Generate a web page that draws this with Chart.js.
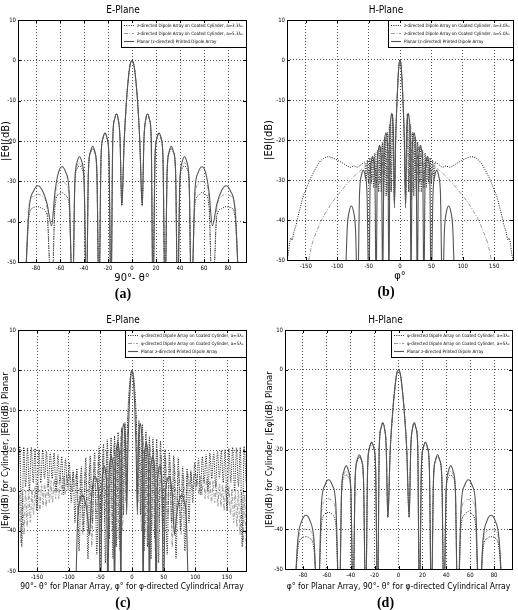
<!DOCTYPE html>
<html lang="en">
<head>
<meta charset="UTF-8">
<title>E-Plane / H-Plane radiation patterns</title>
<script src="https://cdn.jsdelivr.net/npm/chart.js"></script>
<style>
  body { margin: 0; background: #fff; width: 518px; height: 610px; position: relative; overflow: hidden; }
  canvas { position: absolute; }
</style>
</head>
<body>
<canvas id="chartA" width="259" height="305" style="left:0;top:0"></canvas>
<canvas id="chartB" width="259" height="305" style="left:259px;top:0"></canvas>
<canvas id="chartC" width="259" height="305" style="left:0;top:305px"></canvas>
<canvas id="chartD" width="259" height="305" style="left:259px;top:305px"></canvas>
<script>
// ---- tick labels ----
const dbTicks = [-50, -40, -30, -20, -10, 0, 10];
const narrowTicks = [-80, -60, -40, -20, 0, 20, 40, 60, 80];
const wideTicks = [-150, -100, -50, 0, 50, 100, 150];

// ---- E-plane: planar array + z-directed cylinders (a), planar reused in (c) ----
const ePlanarX = [
  -89.5, -85.8, -82, -78.3, -74.5, -70.8, -67,
  -64.1, -61.2, -58.3, -55.3, -52.4, -49.5,
  -47.6, -45.7, -43.8, -41.8, -39.9, -38,
  -36.3, -34.5, -32.8, -31, -29.3, -27.5,
  -25.8, -24.2, -22.5, -20.8, -19.2, -17.5,
  -16, -14.5, -13, -11.5, -10, -8.5,
  -6.5, -4.6, -3.2, -1.8, 0, 1.8, 3.2, 4.6, 6.5, 8.5,
  10, 11.5, 13, 14.5, 16, 17.5,
  19.2, 20.8, 22.5, 24.2, 25.8, 27.5,
  29.3, 31, 32.8, 34.5, 36.3, 38,
  39.9, 41.8, 43.8, 45.7, 47.6, 49.5,
  52.4, 55.3, 58.3, 61.2, 64.1, 67,
  70.8, 74.5, 78.3, 82, 85.8, 89.5
];
const ePlanarY = [
  -60, -37, -32.4, -31.1, -32.4, -35.5, -41,
  -32.4, -27.7, -26.4, -27.7, -32.4, -60,
  -29.9, -25.2, -23.9, -25.2, -29.9, -60,
  -27.3, -22.6, -21.3, -22.6, -27.3, -60,
  -24, -19.3, -18, -19.3, -24, -60,
  -19.3, -14.6, -13.3, -14.6, -19.3, -36,
  -20, -10, -5, -1.5, 0, -1.5, -5, -10, -20, -36,
  -19.3, -14.6, -13.3, -14.6, -19.3, -60,
  -24, -19.3, -18, -19.3, -24, -60,
  -27.3, -22.6, -21.3, -22.6, -27.3, -60,
  -29.9, -25.2, -23.9, -25.2, -29.9, -60,
  -32.4, -27.7, -26.4, -27.7, -32.4, -41,
  -35.5, -32.4, -31.1, -32.4, -37, -60
];
const eCyl33Y = [
  -60, -38.5, -36.5, -36.3, -36.8, -38.5, -60,
  -36, -33.2, -32.8, -33.5, -36, -60,
  -30.5, -26.8, -26.2, -26.8, -30.5, -60,
  -27.5, -22.8, -22, -23, -27.5, -60,
  -24, -19.3, -18, -19.3, -24, -60,
  -19.3, -14.6, -13.3, -14.6, -19.3, -36,
  -20, -10, -5, -1.5, 0, -1.5, -5, -10, -20, -36,
  -19.3, -14.6, -13.3, -14.6, -19.3, -60,
  -24, -19.3, -18, -19.3, -24, -60,
  -27.5, -23, -22, -22.8, -27.5, -60,
  -30.5, -26.8, -26.2, -26.8, -30.5, -60,
  -36, -33.5, -32.8, -33.2, -36, -60,
  -38.5, -36.8, -36.3, -36.5, -38.5, -60
];
const eCyl53Y = [
  -60, -36, -33.6, -33.2, -33.8, -36.5, -60,
  -34, -30.5, -30, -30.6, -34, -60,
  -30, -26, -25.5, -26.2, -30, -60,
  -27.5, -22.7, -21.8, -22.8, -27.5, -60,
  -24, -19.3, -18, -19.3, -24, -60,
  -19.3, -14.6, -13.3, -14.6, -19.3, -36,
  -20, -10, -5, -1.5, 0, -1.5, -5, -10, -20, -36,
  -19.3, -14.6, -13.3, -14.6, -19.3, -60,
  -24, -19.3, -18, -19.3, -24, -60,
  -27.5, -22.8, -21.8, -22.7, -27.5, -60,
  -30, -26.2, -25.5, -26, -30, -60,
  -34, -30.6, -30, -30.5, -34, -60,
  -36.5, -33.8, -33.2, -33.6, -36, -60
];

// ---- H-plane: planar array (b, d) + phi-directed cylinders (d) ----
const hPlanarX = [
  -87.5, -84.2, -80.8, -77.5, -74.2, -70.8, -67.5,
  -64.5, -61.5, -58.5, -55.5, -52.5, -49.5,
  -47.6, -45.7, -43.8, -41.8, -39.9, -38,
  -36.3, -34.5, -32.8, -31, -29.3, -27.5,
  -25.8, -24.2, -22.5, -20.8, -19.2, -17.5,
  -16.1, -14.6, -13.2, -11.8, -10.3, -8.9,
  -6.9, -4.7, -3.2, -1.8, 0, 1.8, 3.2, 4.7, 6.9, 8.9,
  10.3, 11.8, 13.2, 14.6, 16.1, 17.5,
  19.2, 20.8, 22.5, 24.2, 25.8, 27.5,
  29.3, 31, 32.8, 34.5, 36.3, 38,
  39.9, 41.8, 43.8, 45.7, 47.6, 49.5,
  52.5, 55.5, 58.5, 61.5, 64.5, 67.5,
  70.8, 74.2, 77.5, 80.8, 84.2, 87.5
];
const hPlanarY = [
  -60, -42.5, -37.8, -36.5, -37.8, -42.5, -60,
  -33.6, -28.9, -27.6, -28.9, -33.6, -60,
  -30.1, -25.4, -24.1, -25.4, -30.1, -60,
  -27.3, -22.6, -21.3, -22.6, -27.3, -60,
  -24.2, -19.5, -18.2, -19.5, -24.2, -60,
  -19.3, -14.6, -13.3, -14.6, -19.3, -37,
  -20, -10, -5, -1.5, 0, -1.5, -5, -10, -20, -37,
  -19.3, -14.6, -13.3, -14.6, -19.3, -60,
  -24.2, -19.5, -18.2, -19.5, -24.2, -60,
  -27.3, -22.6, -21.3, -22.6, -27.3, -60,
  -30.1, -25.4, -24.1, -25.4, -30.1, -60,
  -33.6, -28.9, -27.6, -28.9, -33.6, -60,
  -42.5, -37.8, -36.5, -37.8, -42.5, -60
];
const hCyl3Y = [
  -60, -45, -42.2, -41.9, -42.3, -45, -60,
  -39, -36.2, -35.8, -36.3, -39, -60,
  -30.5, -27, -26.4, -27, -30.5, -60,
  -27.8, -22.8, -22, -22.8, -27.8, -60,
  -24.2, -19.5, -18.2, -19.5, -24.2, -60,
  -19.3, -14.6, -13.3, -14.6, -19.3, -37,
  -20, -10, -5, -1.5, 0, -1.5, -5, -10, -20, -37,
  -19.3, -14.6, -13.3, -14.6, -19.3, -60,
  -24.2, -19.5, -18.2, -19.5, -24.2, -60,
  -27.8, -22.8, -22, -22.8, -27.8, -60,
  -30.5, -27, -26.4, -27, -30.5, -60,
  -39, -36.3, -35.5, -36.2, -39, -60,
  -45, -42.3, -41.9, -42.2, -45, -60
];
const hCyl5Y = [
  -60, -43.5, -40.3, -40, -40.4, -43.5, -60,
  -36, -32.8, -32.4, -32.9, -36, -60,
  -30, -26.2, -25.5, -26.2, -30, -60,
  -27.6, -22.7, -21.8, -22.7, -27.6, -60,
  -24.2, -19.5, -18.2, -19.5, -24.2, -60,
  -19.3, -14.6, -13.3, -14.6, -19.3, -37,
  -20, -10, -5, -1.5, 0, -1.5, -5, -10, -20, -37,
  -19.3, -14.6, -13.3, -14.6, -19.3, -60,
  -24.2, -19.5, -18.2, -19.5, -24.2, -60,
  -27.6, -22.7, -21.8, -22.7, -27.6, -60,
  -30, -26.2, -25.5, -26.2, -30, -60,
  -36, -32.9, -32.6, -32.8, -36, -60,
  -43.5, -40.4, -40, -40.3, -43.5, -60
];

// ---- (b) z-directed cylinders, H-plane ----
const bCyl30X = [
  -180, -178, -176, -174, -172, -169, -166, -163, -159, -155, -150, -145, -140, -134, -128, -121, -114, -107, -100, -93, -86, -79, -73, -68, -63, -59,
  -56, -54, -52, -50, -48, -46, -44, -42, -40, -38, -36, -34, -32, -30, -28, -26, -24, -22, -20, -18, -16, -14, -12, -9,
  -6.9, -4.7, -3.2, -1.8, 0, 1.8, 3.2, 4.7, 6.9,
  9, 12, 14, 16, 18, 20, 22, 24, 26, 28, 30, 32, 34, 36, 38, 40, 42, 44, 46, 48, 50, 52, 54, 56,
  59, 63, 68, 73, 79, 86, 93, 100, 107, 114, 121, 128, 134, 140, 145, 150, 155, 159, 163, 166, 169, 172, 174, 176, 178, 180
];
const bCyl30Y = [
  -50, -48.5, -46, -44.5, -45, -43, -41.5, -39.5, -37, -34.5, -32.5, -30.5, -28.8, -27, -25.5, -24.5, -24.2, -24.5, -25, -25.6, -26.3, -26.8, -26.5, -26.8, -26.3, -25.8,
  -25.5, -30, -25, -31, -24.5, -31, -24, -32, -23.2, -32, -22.5, -33, -21.5, -33, -20.5, -34, -19.2, -34, -18, -35, -16, -33, -13.5, -35,
  -20, -10, -5, -1.5, 0, -1.5, -5, -10, -20,
  -35, -13.5, -33, -16, -35, -18, -34, -19.2, -34, -20.5, -33, -21.5, -33, -22.5, -32, -23.2, -32, -24, -31, -24.5, -31, -25, -30, -25.5,
  -25.8, -26.3, -26.8, -26.5, -26.8, -26.3, -25.6, -25, -24.5, -24.2, -24.5, -25.5, -27, -28.8, -30.5, -32.5, -34.5, -37, -39.5, -41.5, -43, -45, -44.5, -46, -48.5, -50
];
const bCyl50X = [
  -148, -140, -133, -125, -117, -108, -100, -90, -80, -70, -62, -56,
  -53, -50, -47, -44, -41, -38, -35, -32, -29, -26, -23, -20, -17, -14, -11.5, -9,
  -6.9, -4.7, -3.2, -1.8, 0, 1.8, 3.2, 4.7, 6.9,
  9, 11.5, 14, 17, 20, 23, 26, 29, 32, 35, 38, 41, 44, 47, 50, 53,
  56, 62, 70, 80, 90, 100, 108, 117, 125, 133, 140, 148
];
const bCyl50Y = [
  -52, -46, -43, -40, -37.8, -35.6, -34, -32, -30.2, -28.6, -27.5, -26.7,
  -26.2, -30, -25.5, -30, -24.3, -31, -23, -31, -21.2, -32, -19.5, -33, -16.5, -33, -13.5, -36,
  -20, -10, -5, -1.5, 0, -1.5, -5, -10, -20,
  -36, -13.5, -33, -16.5, -33, -19.5, -32, -21.2, -31, -23, -31, -24.3, -30, -25.5, -30, -26.2,
  -26.7, -27.5, -28.6, -30.2, -32, -34, -35.6, -37.8, -40, -43, -46, -52
];

// ---- (c) phi-directed cylinders, E-plane ----
const cCyl3X = [
  -180, -177, -174, -171, -168, -165, -162, -159, -156, -153, -150, -147, -144, -141, -138, -135, -132, -129, -126, -123, -120, -117, -114, -111, -108, -105, -102, -99,
  -96, -93, -90, -87, -83.5, -80, -76.5, -73, -69.5, -66, -62.5, -59, -55.5, -52, -48.5, -45, -42, -39, -36, -33, -30, -27.5, -24.5, -22, -19, -16.5, -13.5, -11, -8.5,
  -7.5, -6.3, -4.5, -2.5, 0, 2.5, 4.5, 6.3, 7.5,
  8.5, 11, 13.5, 16.5, 19, 22, 24.5, 27.5, 30, 33, 36, 39, 42, 45, 48.5, 52, 55.5, 59, 62.5, 66, 69.5, 73, 76.5, 80, 83.5, 87, 90, 93, 96,
  99, 102, 105, 108, 111, 114, 117, 120, 123, 126, 129, 132, 135, 138, 141, 144, 147, 150, 153, 156, 159, 162, 165, 168, 171, 174, 177, 180
];
const cCyl3Y = [
  -28, -19, -44, -19.2, -29, -19.3, -30, -19.2, -28, -19.5, -35, -19.8, -28, -20, -27, -20.2, -29, -20.5, -27, -20.6, -30, -21, -28, -21.5, -31, -22, -29, -23,
  -33, -25, -38, -24.5, -45, -24, -40, -21.8, -47, -21.3, -38, -20.5, -46, -19, -40, -18.4, -48, -17.2, -42, -16.8, -47, -16.4, -44, -15.5, -45, -14.3, -36, -13, -30,
  -16, -10, -5, -1.5, 0, -1.5, -5, -10, -16,
  -30, -12.5, -36, -13.5, -45, -15, -44, -16.4, -47, -16.8, -42, -17.2, -48, -17.6, -40, -19.7, -46, -20.5, -38, -21.3, -47, -21.8, -40, -24, -45, -24.5, -38, -25, -33,
  -23, -29, -22, -31, -21.5, -28, -21, -30, -20.6, -27, -20.5, -29, -20.2, -27, -20, -28, -19.8, -35, -19.5, -28, -19.2, -30, -19.3, -29, -19.2, -44, -19, -28
];
const cCyl5X = [
  -180, -178, -175.5, -173, -170.5, -168, -165.5, -163, -160.5, -158, -155.5, -153, -150.5, -148, -145.5, -143, -140.5, -138, -135.5, -133, -130.5, -128, -125.5, -123, -120.5, -118, -115.5, -113, -110.5, -108, -105.5, -103, -100.5, -98, -95.5, -93, -90.5,
  -88, -84.5, -81, -77.5, -74, -70.5, -67, -63.5, -60, -56.5, -53, -49.5, -46, -43, -40, -37, -34, -31, -28.5, -26, -23, -20.5, -17.5, -15, -12, -9.5, -8,
  -7, -5.5, -4, -2.2, 0, 2.2, 4, 5.5, 7,
  8, 9.5, 12, 15, 17.5, 20.5, 23, 26, 28.5, 31, 34, 37, 40, 43, 46, 49.5, 53, 56.5, 60, 63.5, 67, 70.5, 74, 77.5, 81, 84.5, 88,
  90.5, 93, 95.5, 98, 100.5, 103, 105.5, 108, 110.5, 113, 115.5, 118, 120.5, 123, 125.5, 128, 130.5, 133, 135.5, 138, 140.5, 143, 145.5, 148, 150.5, 153, 155.5, 158, 160.5, 163, 165.5, 168, 170.5, 173, 175.5, 178, 180
];
const cCyl5Y = [
  -45, -31, -43, -30.5, -41, -30, -39, -29.8, -38, -29.5, -36, -29, -35, -28.8, -35, -28.5, -34, -28.2, -34, -27.8, -33, -27.5, -33, -27.2, -32, -27, -32, -26.6, -31, -26.3, -31, -26, -30, -25.7, -30, -25.4, -29,
  -25.5, -36, -26, -41, -25, -35, -23.5, -44, -23, -37, -21.5, -43, -21, -38, -20, -45, -19.5, -40, -18.5, -44, -17.5, -42, -16.5, -40, -15, -33, -28,
  -14, -9, -5, -1.5, 0, -1.5, -5, -9, -14,
  -28, -33, -15, -40, -16.5, -42, -17.5, -44, -18.5, -40, -19.5, -45, -20, -38, -21, -43, -21.5, -37, -23, -44, -23.5, -35, -25, -41, -26, -36, -25.5,
  -29, -25.4, -30, -25.7, -30, -26, -31, -26.3, -31, -26.6, -32, -27, -32, -27.2, -33, -27.5, -33, -27.8, -34, -28.2, -34, -28.5, -35, -28.8, -35, -29, -36, -29.5, -38, -29.8, -39, -30, -41, -30.5, -43, -31, -45
];

const FONT = "'Liberation Sans Narrow', 'DejaVu Sans Condensed', 'Liberation Sans', Arial, sans-serif";

function pts(xs, ys) {
  return xs.map((x, i) => ({ x: x, y: ys[i] }));
}

function dotted(label, xs, ys) {
  return { label, data: pts(xs, ys), borderColor: '#1e1e1e', borderWidth: 1, borderDash: [1, 1.3], order: 1 };
}
function dashDot(label, xs, ys) {
  return { label, data: pts(xs, ys), borderColor: '#9a9a9a', borderWidth: 1, borderDash: [4, 1.5, 1, 1.5], order: 2 };
}
function solid(label, xs, ys) {
  return { label, data: pts(xs, ys), borderColor: '#555', borderWidth: 1.1, borderDash: [], order: 0 };
}

// box around the plot + short inward ticks, like the original
const framePlugin = {
  id: 'frame',
  afterDraw(chart) {
    const { ctx, chartArea: a, scales } = chart;
    ctx.save();
    ctx.strokeStyle = '#000';
    ctx.lineWidth = 1;
    ctx.strokeRect(Math.round(a.left) + 0.5, Math.round(a.top) + 0.5, Math.round(a.right - a.left), Math.round(a.bottom - a.top));
    ctx.beginPath();
    scales.x.ticks.forEach(t => {
      const px = Math.round(scales.x.getPixelForValue(t.value)) + 0.5;
      ctx.moveTo(px, a.bottom); ctx.lineTo(px, a.bottom - 3);
      ctx.moveTo(px, a.top); ctx.lineTo(px, a.top + 3);
    });
    scales.y.ticks.forEach(t => {
      const py = Math.round(scales.y.getPixelForValue(t.value)) + 0.5;
      ctx.moveTo(a.left, py); ctx.lineTo(a.left + 3, py);
      ctx.moveTo(a.right, py); ctx.lineTo(a.right - 3, py);
    });
    ctx.stroke();
    ctx.restore();
  }
};

// legend box in the upper right corner of the plot
const boxLegend = {
  id: 'boxLegend',
  afterDatasetsDraw(chart) {
    const { ctx, chartArea } = chart;
    const items = chart.data.datasets;
    ctx.save();
    ctx.font = '4.5px ' + FONT;
    const sample = 10, gap = 3, rowH = 8, padX = 3;
    const textW = Math.max(...items.map(d => ctx.measureText(d.label).width));
    const w = Math.round(padX + sample + gap + textW + padX);
    const h = items.length * rowH + 3;
    const x = Math.round(chartArea.right - w), y = Math.round(chartArea.top);
    ctx.fillStyle = '#fff';
    ctx.fillRect(x, y, w, h);
    ctx.strokeStyle = '#000';
    ctx.lineWidth = 1;
    ctx.strokeRect(x + 0.5, y + 0.5, w, h);
    items.forEach((d, i) => {
      const cy = y + 1.5 + rowH * i + rowH / 2;
      ctx.beginPath();
      ctx.setLineDash(d.borderDash || []);
      ctx.strokeStyle = d.borderColor;
      ctx.lineWidth = d.borderWidth;
      ctx.moveTo(x + padX, cy);
      ctx.lineTo(x + padX + sample, cy);
      ctx.stroke();
      ctx.setLineDash([]);
      ctx.fillStyle = '#000';
      ctx.textBaseline = 'middle';
      ctx.fillText(d.label, x + padX + sample + gap, cy);
    });
    ctx.restore();
  }
};

function makeChart(id, p) {
  return new Chart(document.getElementById(id), {
    type: 'line',
    data: { datasets: p.datasets },
    options: {
      responsive: false,
      animation: false,
      devicePixelRatio: 1,
      layout: { padding: p.padding },
      elements: { point: { radius: 0 }, line: { cubicInterpolationMode: 'monotone', fill: false } },
      plugins: {
        legend: { display: false },
        tooltip: { enabled: false },
        title: {
          display: true, text: p.title, color: '#000',
          font: { family: FONT, size: 10, weight: 'normal' }, padding: p.titlePad
        },
        subtitle: {
          display: true, text: p.tag, position: 'bottom', color: '#000',
          font: { family: "'Liberation Serif', 'Times New Roman', serif", size: 14, weight: 'bold', lineHeight: 1 },
          padding: p.tagPad
        }
      },
      scales: {
        x: {
          type: 'linear', min: p.xMin, max: p.xMax,
          afterBuildTicks: ax => { ax.ticks = p.xTicks.map(v => ({ value: v })); },
          afterFit: ax => { ax.height = p.xH; },
          grid: { color: 'rgba(0,0,0,0.85)', lineWidth: 0.8, drawTicks: false },
          border: { display: false, dash: [1, 2] },
          ticks: { color: '#000', font: { family: FONT, size: 6 }, padding: 3, autoSkip: false, maxRotation: 0, callback: v => String(v) },
          title: { display: true, text: p.xTitle, color: '#000', font: { family: FONT, size: p.xTitleSize }, padding: { top: 0, bottom: 0 } }
        },
        y: {
          type: 'linear', min: -50, max: 10,
          afterBuildTicks: ax => { ax.ticks = dbTicks.map(v => ({ value: v })); },
          afterFit: ax => { ax.width = p.yW; },
          grid: { color: 'rgba(0,0,0,0.85)', lineWidth: 0.8, drawTicks: false },
          border: { display: false, dash: [1, 2] },
          ticks: { color: '#000', font: { family: FONT, size: 6 }, padding: 2, callback: v => String(v) },
          title: { display: true, text: p.yTitle, color: '#000', font: { family: FONT, size: p.yTitleSize }, padding: { top: p.yTitlePad, bottom: 0 } }
        }
      }
    },
    plugins: [framePlugin, boxLegend]
  });
}

makeChart('chartA', {
  title: 'E-Plane', tag: '(a)',
  titlePad: { top: 4, bottom: 4 }, tagPad: { top: 2, bottom: 0 },
  padding: { left: 0, right: 13, top: 0, bottom: 4 },
  xMin: -95, xMax: 95, xTicks: narrowTicks, xH: 23, yW: 18,
  xTitle: '90°- θ°', xTitleSize: 11, yTitle: '|Eθ|(dB)', yTitleSize: 11, yTitlePad: 0,
  datasets: [
    dotted('z-directed Dipole Array on Coated Cylinder, a=3.3λ₀', ePlanarX, eCyl33Y),
    dashDot('z-directed Dipole Array on Coated Cylinder, a=5.3λ₀', ePlanarX, eCyl53Y),
    solid('Planar (z-directed) Printed Dipole Array', ePlanarX, ePlanarY)
  ]
});

makeChart('chartB', {
  title: 'H-Plane', tag: '(b)',
  titlePad: { top: 4, bottom: 4 }, tagPad: { top: 2, bottom: 0 },
  padding: { left: 0, right: 5, top: 0, bottom: 6 },
  xMin: -180, xMax: 180, xTicks: wideTicks, xH: 23, yW: 28,
  xTitle: 'φ°', xTitleSize: 11, yTitle: '|Eθ|(dB)', yTitleSize: 11, yTitlePad: 4,
  datasets: [
    dotted('z-directed Dipole Array on Coated Cylinder, a=3.0λ₀', bCyl30X, bCyl30Y),
    dashDot('z-directed Dipole Array on Coated Cylinder, a=5.0λ₀', bCyl50X, bCyl50Y),
    solid('Planar (z-directed) Printed Dipole Array', hPlanarX, hPlanarY)
  ]
});

makeChart('chartC', {
  title: 'E-Plane', tag: '(c)',
  titlePad: { top: 9, bottom: 4 }, tagPad: { top: 4, bottom: 0 },
  padding: { left: 0, right: 13, top: 0, bottom: 0 },
  xMin: -180, xMax: 180, xTicks: wideTicks, xH: 21, yW: 18,
  xTitle: '90°- θ° for Planar Array, φ° for φ-directed Cylindrical Array', xTitleSize: 8.5,
  yTitle: '|Eφ|(dB) for Cylinder, |Eθ|(dB) Planar', yTitleSize: 9.5, yTitlePad: 0,
  datasets: [
    dotted('φ-directed Dipole Array on Coated Cylinder, a=3λ₀', cCyl3X, cCyl3Y),
    dashDot('φ-directed Dipole Array on Coated Cylinder, a=5λ₀', cCyl5X, cCyl5Y),
    solid('Planar z-directed Printed Dipole Array', ePlanarX, ePlanarY)
  ]
});

makeChart('chartD', {
  title: 'H-Plane', tag: '(d)',
  titlePad: { top: 9, bottom: 4 }, tagPad: { top: 4, bottom: 0 },
  padding: { left: 0, right: 6, top: 0, bottom: 0 },
  xMin: -95, xMax: 95, xTicks: narrowTicks, xH: 23, yW: 26,
  xTitle: 'φ° for Planar Array, 90°- θ° for φ-directed Cylindrical Array', xTitleSize: 8.5,
  yTitle: '|Eθ|(dB) for Cylinder, |Eφ|(dB) Planar', yTitleSize: 9.5, yTitlePad: 5,
  datasets: [
    dotted('φ-directed Dipole Array on Coated Cylinder, a=3λ₀', hPlanarX, hCyl3Y),
    dashDot('φ-directed Dipole Array on Coated Cylinder, a=5λ₀', hPlanarX, hCyl5Y),
    solid('Planar z-directed Printed Dipole Array', hPlanarX, hPlanarY)
  ]
});
</script>
</body>
</html>
